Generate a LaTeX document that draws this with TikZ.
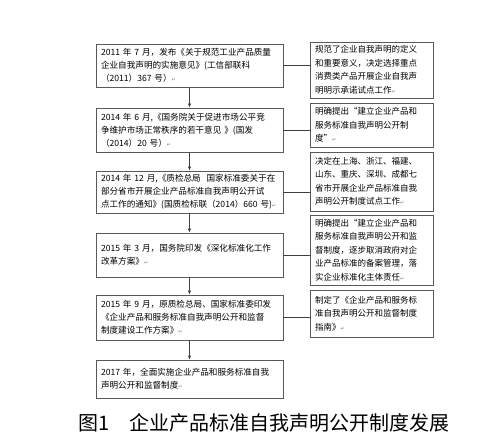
\documentclass[tikz,border=0pt]{standalone}
\usepackage{fontspec}
\setmainfont{Noto Sans CJK SC}
\newfontfamily\symfont{DejaVu Sans}
\usetikzlibrary{arrows.meta,positioning}
\newcommand{\ret}{{\symfont\fontsize{5}{5}\selectfont\color{gray}↵}}

\begin{document}
\begin{tikzpicture}[x=1pt,y=-1pt,
	stepbox/.style={draw=black!65,line width=.7pt,text width=177pt,inner xsep=5pt,inner ysep=3pt,align=left,font=\fontsize{8.6}{13}\selectfont},
	notebox/.style={draw=black!65,line width=.7pt,text width=113pt,inner xsep=5pt,inner ysep=3pt,align=left,font=\fontsize{8.5}{13.5}\selectfont},
	link/.style={black!75,line width=.7pt},
	flow/.style={link,-{Latex[length=4pt,width=3.5pt]}}]
	\useasboundingbox (0,0) rectangle (500,438);
	% time line, left column
	\node[stepbox,minimum height=43pt] (L1) at (189.5,65.5) {2011~年~7~月，发布《关于规范工业产品质量\\企业自我声明的实施意见》(工信部联科\\（2011）367~号）\ret};
	\node[stepbox,minimum height=44pt] (L2) at (189.5,130) {2014~年~6~月,《国务院关于促进市场公平竞\\争维护市场正常秩序的若干意见~》(国发\\（2014）20~号）\ret};
	\node[stepbox,minimum height=42pt] (L3) at (189.5,192) {2014~年~12~月,《质检总局~~国家标准委关于在\\部分省市开展企业产品标准自我声明公开试\\点工作的通知》(国质检标联（2014）660~号)\ret};
	\node[stepbox,minimum height=44pt] (L4) at (189.5,255) {2015~年~3~月，国务院印发《深化标准化工作\\改革方案》\ret};
	\node[stepbox,minimum height=45pt] (L5) at (189.5,317.5) {2015~年~9~月，原质检总局、国家标准委印发\\《企业产品和服务标准自我声明公开和监督\\制度建设工作方案》\ret};
	\node[stepbox,minimum height=38pt] (L6) at (189.5,379) {2017~年，全面实施企业产品和服务标准自我\\声明公开和监督制度\ret};
	% notes, right column
	\node[notebox,minimum height=56pt] (R1) at (371.5,70) {规范了企业自我声明的定义\\和重要意义，决定选择重点\\消费类产品开展企业自我声\\明明示承诺试点工作\ret};
	\node[notebox,minimum height=44pt] (R2) at (371.5,125) {明确提出“建立企业产品和\\服务标准自我声明公开制\\度”\ret};
	\node[notebox,minimum height=59pt] (R3) at (371.5,181.5) {决定在上海、浙江、福建、\\山东、重庆、深圳、成都七\\省市开展企业产品标准自我\\声明公开制度试点工作\ret};
	\node[notebox,minimum height=70pt] (R4) at (371.5,250) {明确提出“建立企业产品和\\服务标准自我声明公开和监\\督制度，逐步取消政府对企\\业产品标准的备案管理，落\\实企业标准化主体责任\ret};
	\node[notebox,minimum height=47pt] (R5) at (371.5,313.5) {制定了《企业产品和服务标\\准自我声明公开和监督制度\\指南》\ret};
	% connectors
	\foreach \a/\b in {L1/L2,L2/L3,L3/L4,L4/L5,L5/L6} \draw[flow] (\a.south) -- (\b.north);
	\foreach \i in {1,...,5} \draw[link] (L\i.east) -- (L\i.east -| R\i.west);
	\node[font=\fontsize{20}{22}\selectfont] (caption) at (264,423) {图1\hspace{1em}企业产品标准自我声明公开制度发展};
\end{tikzpicture}
\end{document}
